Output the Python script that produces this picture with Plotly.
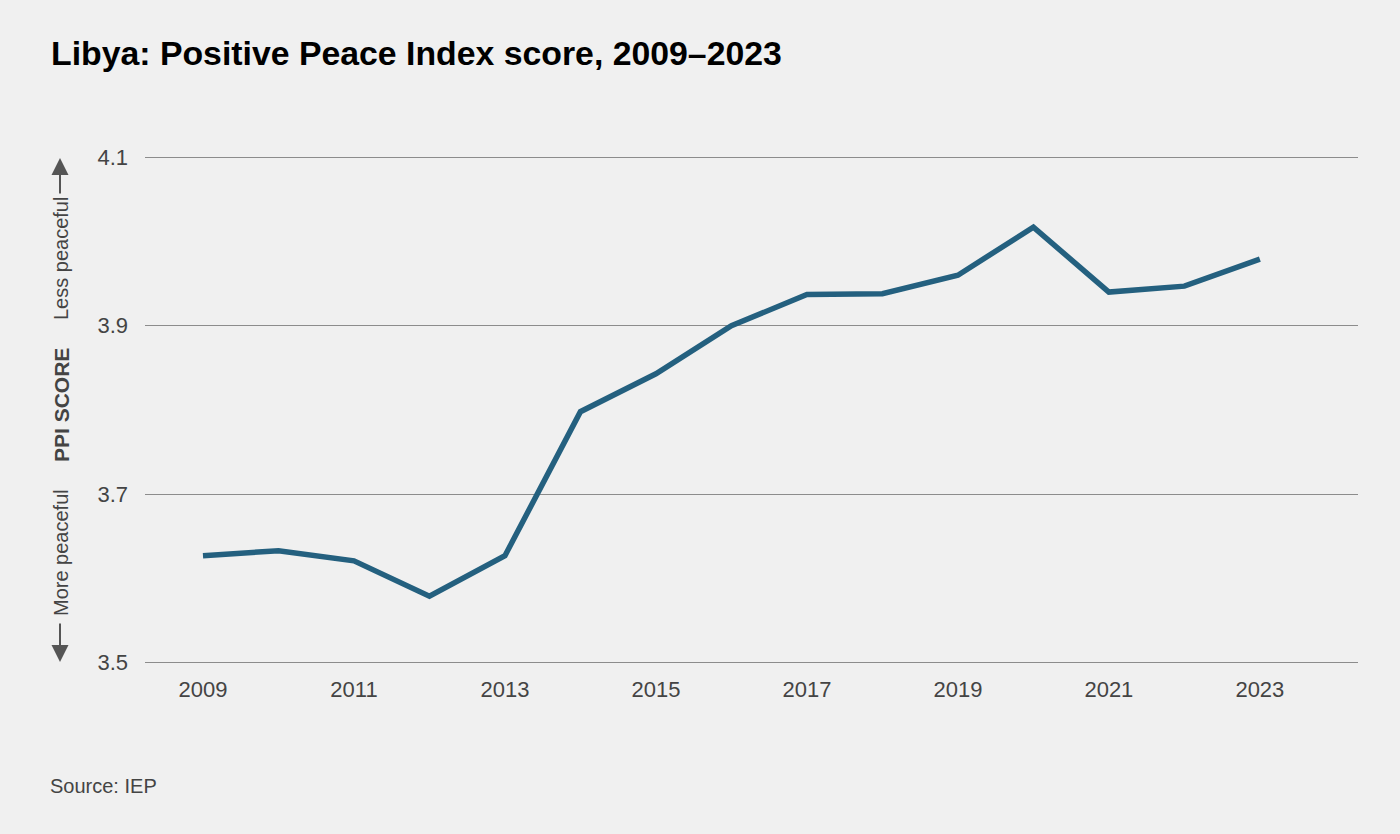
import plotly.graph_objects as go

years = list(range(2009, 2024))
ppi_score = [3.627, 3.633, 3.621, 3.579, 3.627, 3.798, 3.843, 3.900,
             3.937, 3.938, 3.960, 4.017, 3.940, 3.947, 3.979]
x_ticks = [2009, 2011, 2013, 2015, 2017, 2019, 2021, 2023]
y_ticks = [3.5, 3.7, 3.9, 4.1]

W, H = 1400, 834
L, R, T, B = 145, 42, 156, 170
PW, PH = W - L - R, H - T - B

def px(xp):
    return (xp - L) / PW

def py(yp):
    return (H - B - yp) / PH

FONT = "Liberation Sans, Arial, Helvetica, sans-serif"
TXT = "#444444"

fig = go.Figure()
fig.add_trace(go.Scatter(x=years, y=ppi_score, mode="lines",
                         line=dict(color="#24607f", width=5.5),
                         hoverinfo="x+y", showlegend=False))

fig.update_layout(
    width=W, height=H,
    margin=dict(l=L, r=R, t=T, b=B),
    paper_bgcolor="#f0f0f0", plot_bgcolor="#f0f0f0",
    font=dict(family=FONT, color=TXT, size=22),
    xaxis=dict(range=[2008.232, 2024.30], tickvals=x_ticks,
               showgrid=False, zeroline=False, showline=False,
               ticks="", ticklabelstandoff=10,
               tickfont=dict(size=22, color=TXT)),
    yaxis=dict(range=[3.4985, 4.1015], tickvals=y_ticks, tickformat=".1f",
               showgrid=True, gridcolor="#8c8c8c", gridwidth=1,
               zeroline=False, showline=False, ticks="",
               ticklabelstandoff=16,
               tickfont=dict(size=22, color=TXT)),
)

ann = []
ann.append(dict(text="<b>Libya: Positive Peace Index score, 2009–2023</b>",
                xref="paper", yref="paper", x=px(49), y=py(53),
                xanchor="left", yanchor="middle", showarrow=False,
                font=dict(size=33.8, color="#000000", family=FONT)))
ann.append(dict(text="Source: IEP", xref="paper", yref="paper",
                x=px(48), y=py(786), xanchor="left", yanchor="middle",
                showarrow=False, font=dict(size=20, color=TXT, family=FONT)))
ann.append(dict(text="Less peaceful", xref="paper", yref="paper",
                x=px(61), y=py(259), xanchor="center", yanchor="middle",
                textangle=-90, showarrow=False,
                font=dict(size=20, color=TXT, family=FONT)))
ann.append(dict(text="<b>PPI SCORE</b>", xref="paper", yref="paper",
                x=px(61), y=py(405), xanchor="center", yanchor="middle",
                textangle=-90, showarrow=False,
                font=dict(size=21, color=TXT, family=FONT)))
ann.append(dict(text="More peaceful", xref="paper", yref="paper",
                x=px(61), y=py(553), xanchor="center", yanchor="middle",
                textangle=-90, showarrow=False,
                font=dict(size=20, color=TXT, family=FONT)))
# arrows
ann.append(dict(text="", xref="paper", yref="paper",
                x=px(60), y=py(158), ax=0, ay=37,
                showarrow=True, arrowhead=2, arrowsize=1.7, arrowwidth=2,
                arrowcolor="#555555"))
ann.append(dict(text="", xref="paper", yref="paper",
                x=px(60), y=py(662), ax=0, ay=-40,
                showarrow=True, arrowhead=2, arrowsize=1.7, arrowwidth=2,
                arrowcolor="#555555"))
fig.update_layout(annotations=ann)

fig.write_html("out.html", config={"displayModeBar": False},
               post_script="document.body.style.margin='0';document.body.style.background='#f0f0f0';")
